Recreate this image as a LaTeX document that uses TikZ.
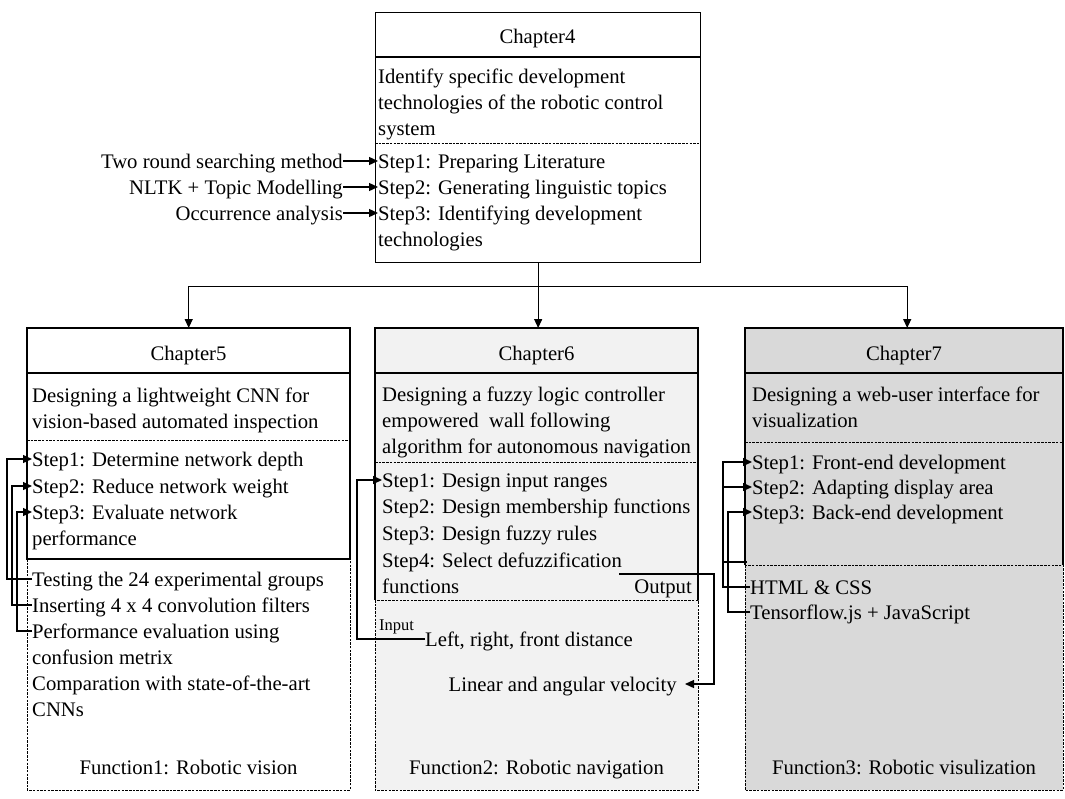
\documentclass[tikz,border=0pt]{standalone}
\usepackage{fontspec}
\setmainfont{Liberation Serif}
\usetikzlibrary{arrows.meta}
\definecolor{navfill}{HTML}{F2F2F2}
\definecolor{webfill}{HTML}{D9D9D9}
\newcommand{\diagfont}{\fontsize{20.7}{26}\selectfont}
\newcommand{\smallfont}{\fontsize{16.5}{20}\selectfont}

\tikzset{
  txt/.style={anchor=base west, inner sep=0pt, text height=15pt, text depth=1pt, font=\diagfont},
  txtc/.style={txt, anchor=base},
  txte/.style={txt, anchor=base east},
  column/.style={anchor=north west, inner sep=0pt, minimum width=#1},
  sep/.style={line width=1.3pt},
  dsep/.style={line width=0.8pt, dash pattern=on 2.5pt off 1.2pt},
  link/.style={line width=1.3pt},
  arr/.style={link, -{Triangle[length=9pt,width=8pt]}},
}

\begin{document}
\begin{tikzpicture}[x=1pt,y=-1pt]
\useasboundingbox (0,0) rectangle (1065,798);

% ---------------- Chapter 4 ----------------
\node[column=325pt, minimum height=250pt, draw, sep, fill=white] (c4) at (375,12) {};
\draw[sep]  (375,57)  -- (700,57);
\draw[dsep] (375,143) -- (700,143);
\node[txtc] (c4t) at (537.5,43) {Chapter4};
\node[txt] (c4d1) at (378,83)  {Identify specific development};
\node[txt] (c4d2) at (378,109) {technologies of the robotic control};
\node[txt] (c4d3) at (378,135) {system};
\node[txt] (c4s1) at (378,168) {Step1: Preparing Literature};
\node[txt] (c4s2) at (378,194) {Step2: Generating linguistic topics};
\node[txt] (c4s3) at (378,220) {Step3: Identifying development};
\node[txt] (c4s4) at (378,246) {technologies};
\node[txte] (m1) at (343,168) {Two round searching method};
\node[txte] (m2) at (343,194) {NLTK + Topic Modelling};
\node[txte] (m3) at (343,220) {Occurrence analysis};
\draw[arr] (m1.east) -- (c4s1.west);
\draw[arr] (m2.east) -- (c4s2.west);
\draw[arr] (m3.east) -- (c4s3.west);

% ---------------- column frames ----------------
\node[column=323pt, minimum height=462pt, fill=white]   (c5) at (27,328)  {};
\node[column=323pt, minimum height=462pt, fill=navfill] (c6) at (375,328) {};
\node[column=318pt, minimum height=462pt, fill=webfill] (c7) at (745,328) {};

% Chapter 5 frame
\draw[dsep] (27,559) -- (27,790) -- (350,790) -- (350,559);
\draw[sep]  (27,328) rectangle (350,559);
\draw[sep]  (27,373) -- (350,373);
\draw[dsep] (27,440) -- (350,440);

% Chapter 6 frame
\draw[dsep] (375,600) -- (375,790) -- (698,790) -- (698,600) -- cycle;
\draw[sep]  (375,600) -- (375,328) -- (698,328) -- (698,600);
\draw[sep]  (375,373) -- (698,373);
\draw[dsep] (375,462) -- (698,462);

% Chapter 7 frame
\draw[dsep] (745,565) -- (745,790) -- (1063,790) -- (1063,565) -- cycle;
\draw[sep]  (745,565) -- (745,328) -- (1063,328) -- (1063,565);
\draw[sep]  (745,373) -- (1063,373);
\draw[dsep] (745,442) -- (1063,442);

% ---------------- tree connectors ----------------
\path (c4.south) ++(0,23) coordinate (hub);
\draw[arr] (hub) -| (c5.north);
\draw[arr] (hub) -| ([xshift=3pt]c7.north);
\draw[arr] (c4.south) -- (c4.south |- c6.north);

% ---------------- Chapter 5 ----------------
\node[txtc] (c5t) at (188.5,360) {Chapter5};
\node[txt] (c5d1) at (32,402) {Designing a lightweight CNN for};
\node[txt] (c5d2) at (32,428) {vision-based automated inspection};
\node[txt] (c5s1) at (32,466) {Step1: Determine network depth};
\node[txt] (c5s2) at (32,493) {Step2: Reduce network weight};
\node[txt] (c5s3) at (32,519) {Step3: Evaluate network};
\node[txt] (c5s4) at (32,545) {performance};
\node[txt] (c5e1) at (32,586) {Testing the 24 experimental groups};
\node[txt] (c5e2) at (32,612) {Inserting 4 x 4 convolution filters};
\node[txt] (c5e3) at (32,638) {Performance evaluation using};
\node[txt] (c5e4) at (32,664) {confusion metrix};
\node[txt] (c5e5) at (32,690) {Comparation with state-of-the-art};
\node[txt] (c5e6) at (32,716) {CNNs};
\node[txtc] (c5f) at (188.5,774) {Function1: Robotic vision};
\coordinate (b51) at (7,0);
\coordinate (b52) at (12,0);
\coordinate (b53) at (17,0);
\draw[arr] (c5e1.west) -- (c5e1.west -| b51) |- (c5s1.west);
\draw[arr] (c5e2.west) -- (c5e2.west -| b52) |- (c5s2.west);
\draw[arr] (c5e3.west) -- (c5e3.west -| b53) |- (c5s3.west);

% ---------------- Chapter 6 ----------------
\node[txtc] (c6t) at (536.5,360) {Chapter6};
\node[txt] (c6d1) at (382,401) {Designing a fuzzy logic controller};
\node[txt] (c6d2) at (382,427) {empowered~ wall following};
\node[txt] (c6d3) at (382,453) {algorithm for autonomous navigation};
\node[txt] (c6s1) at (382,487) {Step1: Design input ranges};
\node[txt] (c6s2) at (382,513) {Step2: Design membership functions};
\node[txt] (c6s3) at (382,540) {Step3: Design fuzzy rules};
\node[txt] (c6s4) at (382,567) {Step4: Select defuzzification};
\node[txt] (c6s5) at (382,593) {functions};
\node[txte] (c6out) at (692,593) {Output};
\node[txt, font=\smallfont, text height=11pt] (c6in) at (379,630) {Input};
\node[txt] (c6e1) at (425,646) {Left, right, front distance};
\node[txte] (c6e2) at (677,691) {Linear and angular velocity};
\node[txtc] (c6f) at (536.5,774) {Function2: Robotic navigation};
\coordinate (b61) at (357,0);
\draw[arr] (c6e1.west) -- (c6e1.west -| b61) |- (c6s1.west);
\coordinate (outstart) at (619,574);
\coordinate (b62) at (714,0);
\draw[arr] (outstart) -- (outstart -| b62) |- ([xshift=8pt]c6e2.east);

% ---------------- Chapter 7 ----------------
\node[txtc] (c7t) at (904,360) {Chapter7};
\node[txt] (c7d1) at (752,401) {Designing a web-user interface for};
\node[txt] (c7d2) at (752,427) {visualization};
\node[txt] (c7s1) at (752,469) {Step1: Front-end development};
\node[txt] (c7s2) at (752,494) {Step2: Adapting display area};
\node[txt] (c7s3) at (752,519) {Step3: Back-end development};
\node[txt] (c7e1) at (750,594) {HTML \& CSS};
\node[txt] (c7e2) at (750,619) {Tensorflow.js + JavaScript};
\node[txtc] (c7f) at (904,774) {Function3: Robotic visulization};
\coordinate (b71) at (723,0);
\coordinate (b72) at (728,0);
\draw[arr] (c7e1.west) -- (c7e1.west -| b71) |- (c7s1.west);
\draw[arr] (c7s2.west -| b71) -- (c7s2.west);
\draw[link] (723,562) -- (747,562);
\draw[arr] (c7e2.west) -- (c7e2.west -| b72) |- (c7s3.west);

\end{tikzpicture}
\end{document}
